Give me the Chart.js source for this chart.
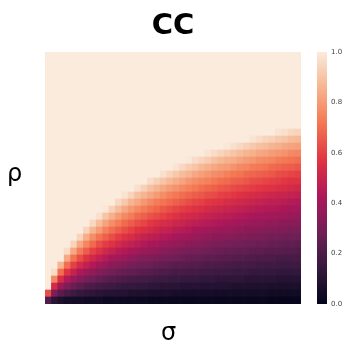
<!DOCTYPE html>
<html>
<head>
<meta charset="utf-8">
<script src="https://cdn.jsdelivr.net/npm/chart.js@4/dist/chart.umd.min.js"></script>
<style>
  body { margin: 0; background: #fff; }
  #wrap { position: relative; width: 345px; height: 346px; font-family: "DejaVu Sans", sans-serif; }
  #heat { position: absolute; left: 0; top: 0; }
  #cbar { position: absolute; left: 300px; top: 0; }
  .lab { position: absolute; font-size: 24px; line-height: 1; color: #000; }
</style>
</head>
<body>
<div id="wrap">
  <canvas id="heat" width="345" height="346"></canvas>
  <canvas id="cbar" width="45" height="346"></canvas>
  <div class="lab" style="left:7px; top:161px;">ρ</div>
  <div class="lab" style="left:161px; top:320px;">σ</div>
</div>
<script>
// sigma cell centres (columns, left -> right)
const sigmaCols = [0.013, 0.038, 0.063, 0.088, 0.113, 0.138, 0.163, 0.188, 0.213, 0.238,
                   0.263, 0.288, 0.313, 0.338, 0.363, 0.388, 0.413, 0.438, 0.463, 0.488,
                   0.513, 0.538, 0.563, 0.588, 0.613, 0.638, 0.663, 0.688, 0.713, 0.738,
                   0.763, 0.788, 0.813, 0.838, 0.863, 0.888, 0.913, 0.938, 0.963, 0.988];
// rho cell centres (rows, bottom -> top)
const rhoRows = [0.014, 0.042, 0.069, 0.097, 0.125, 0.153, 0.181, 0.208, 0.236, 0.264,
                 0.292, 0.319, 0.347, 0.375, 0.403, 0.431, 0.458, 0.486, 0.514, 0.542,
                 0.569, 0.597, 0.625, 0.653, 0.681, 0.708, 0.736, 0.764, 0.792, 0.819,
                 0.847, 0.875, 0.903, 0.931, 0.958, 0.986];

// CC values, one array per rho row (bottom row first), 40 sigma columns each
const cc00 = [0.21,0.11,0.08,0.06,0.05,0.05,0.04,0.04,0.04,0.03, 0.03,0.03,0.03,0.03,0.03,0.03,0.02,0.02,0.02,0.02, 0.02,0.02,0.02,0.02,0.02,0.02,0.02,0.02,0.02,0.02, 0.02,0.02,0.02,0.02,0.02,0.01,0.01,0.01,0.01,0.01];
const cc01 = [0.63,0.32,0.23,0.19,0.16,0.14,0.13,0.12,0.11,0.10, 0.10,0.09,0.09,0.08,0.08,0.08,0.07,0.07,0.07,0.07, 0.06,0.06,0.06,0.06,0.06,0.06,0.05,0.05,0.05,0.05, 0.05,0.05,0.05,0.05,0.05,0.04,0.04,0.04,0.04,0.04];
const cc02 = [1,0.53,0.39,0.32,0.27,0.24,0.21,0.20,0.18,0.17, 0.16,0.15,0.14,0.14,0.13,0.13,0.12,0.12,0.11,0.11, 0.11,0.10,0.10,0.10,0.09,0.09,0.09,0.09,0.09,0.08, 0.08,0.08,0.08,0.08,0.08,0.07,0.07,0.07,0.07,0.07];
const cc03 = [1,0.75,0.54,0.44,0.38,0.33,0.30,0.28,0.26,0.24, 0.22,0.21,0.20,0.19,0.18,0.18,0.17,0.16,0.16,0.15, 0.15,0.14,0.14,0.14,0.13,0.13,0.13,0.12,0.12,0.12, 0.12,0.11,0.11,0.11,0.11,0.11,0.10,0.10,0.10,0.10];
const cc04 = [1,0.96,0.70,0.57,0.49,0.43,0.39,0.36,0.33,0.31, 0.29,0.27,0.26,0.25,0.24,0.23,0.22,0.21,0.20,0.20, 0.19,0.19,0.18,0.18,0.17,0.17,0.16,0.16,0.16,0.15, 0.15,0.15,0.14,0.14,0.14,0.14,0.13,0.13,0.13,0.13];
const cc05 = [1,1,0.86,0.70,0.60,0.53,0.48,0.44,0.40,0.38, 0.35,0.33,0.32,0.30,0.29,0.28,0.27,0.26,0.25,0.24, 0.23,0.23,0.22,0.22,0.21,0.20,0.20,0.20,0.19,0.19, 0.18,0.18,0.18,0.17,0.17,0.17,0.16,0.16,0.16,0.16];
const cc06 = [1,1,1,0.83,0.71,0.63,0.57,0.52,0.48,0.45, 0.42,0.40,0.38,0.36,0.34,0.33,0.32,0.31,0.30,0.29, 0.28,0.27,0.26,0.26,0.25,0.24,0.24,0.23,0.23,0.22, 0.22,0.21,0.21,0.20,0.20,0.20,0.19,0.19,0.19,0.19];
const cc07 = [1,1,1,0.96,0.83,0.73,0.66,0.60,0.56,0.52, 0.49,0.46,0.44,0.42,0.40,0.38,0.37,0.36,0.34,0.33, 0.32,0.31,0.30,0.30,0.29,0.28,0.27,0.27,0.26,0.26, 0.25,0.25,0.24,0.24,0.23,0.23,0.23,0.22,0.22,0.21];
const cc08 = [1,1,1,1,0.94,0.83,0.75,0.69,0.63,0.59, 0.56,0.53,0.50,0.48,0.46,0.44,0.42,0.41,0.39,0.38, 0.37,0.36,0.35,0.34,0.33,0.32,0.31,0.31,0.30,0.29, 0.29,0.28,0.28,0.27,0.27,0.26,0.26,0.25,0.25,0.24];
const cc09 = [1,1,1,1,1,0.94,0.84,0.77,0.71,0.67, 0.63,0.59,0.56,0.54,0.51,0.49,0.47,0.46,0.44,0.43, 0.41,0.40,0.39,0.38,0.37,0.36,0.35,0.35,0.34,0.33, 0.32,0.32,0.31,0.31,0.30,0.29,0.29,0.28,0.28,0.28];
const cc10 = [1,1,1,1,1,1,0.94,0.86,0.80,0.74, 0.70,0.66,0.63,0.60,0.57,0.55,0.53,0.51,0.49,0.48, 0.46,0.45,0.44,0.42,0.41,0.40,0.39,0.38,0.38,0.37, 0.36,0.35,0.35,0.34,0.33,0.33,0.32,0.32,0.31,0.31];
const cc11 = [1,1,1,1,1,1,1,0.95,0.88,0.82, 0.77,0.73,0.69,0.66,0.63,0.61,0.58,0.56,0.54,0.53, 0.51,0.50,0.48,0.47,0.46,0.45,0.44,0.43,0.42,0.41, 0.40,0.39,0.38,0.38,0.37,0.36,0.36,0.35,0.35,0.34];
const cc12 = [1,1,1,1,1,1,1,1,0.97,0.90, 0.85,0.80,0.76,0.73,0.69,0.67,0.64,0.62,0.60,0.58, 0.56,0.54,0.53,0.52,0.50,0.49,0.48,0.47,0.46,0.45, 0.44,0.43,0.42,0.41,0.41,0.40,0.39,0.39,0.38,0.37];
const cc13 = [1,1,1,1,1,1,1,1,1,0.99, 0.93,0.88,0.83,0.79,0.76,0.73,0.70,0.68,0.65,0.63, 0.61,0.59,0.58,0.56,0.55,0.53,0.52,0.51,0.50,0.49, 0.48,0.47,0.46,0.45,0.44,0.44,0.43,0.42,0.41,0.41];
const cc14 = [1,1,1,1,1,1,1,1,1,1, 1,0.95,0.91,0.86,0.83,0.79,0.76,0.73,0.71,0.69, 0.67,0.65,0.63,0.61,0.60,0.58,0.57,0.56,0.54,0.53, 0.52,0.51,0.50,0.49,0.48,0.47,0.47,0.46,0.45,0.44];
const cc15 = [1,1,1,1,1,1,1,1,1,1, 1,1,0.98,0.94,0.89,0.86,0.83,0.80,0.77,0.74, 0.72,0.70,0.68,0.66,0.65,0.63,0.62,0.60,0.59,0.58, 0.56,0.55,0.54,0.53,0.52,0.51,0.50,0.50,0.49,0.48];
const cc16 = [1,1,1,1,1,1,1,1,1,1, 1,1,1,1,0.97,0.93,0.89,0.86,0.83,0.80, 0.78,0.76,0.74,0.72,0.70,0.68,0.67,0.65,0.64,0.62, 0.61,0.60,0.59,0.58,0.57,0.56,0.55,0.54,0.53,0.52];
const cc17 = [1,1,1,1,1,1,1,1,1,1, 1,1,1,1,1,1,0.96,0.93,0.90,0.87, 0.84,0.82,0.79,0.77,0.75,0.74,0.72,0.70,0.69,0.67, 0.66,0.65,0.63,0.62,0.61,0.60,0.59,0.58,0.57,0.56];
const cc18 = [1,1,1,1,1,1,1,1,1,1, 1,1,1,1,1,1,1,1,0.97,0.94, 0.91,0.88,0.86,0.83,0.81,0.79,0.77,0.76,0.74,0.72, 0.71,0.69,0.68,0.67,0.66,0.65,0.63,0.62,0.61,0.60];
const cc19 = [1,1,1,1,1,1,1,1,1,1, 1,1,1,1,1,1,1,1,1,1, 0.98,0.95,0.92,0.90,0.87,0.85,0.83,0.81,0.80,0.78, 0.76,0.75,0.73,0.72,0.71,0.69,0.68,0.67,0.66,0.65];
const cc20 = [1,1,1,1,1,1,1,1,1,1, 1,1,1,1,1,1,1,1,1,1, 1,1,0.99,0.96,0.94,0.92,0.89,0.87,0.85,0.84, 0.82,0.80,0.79,0.77,0.76,0.75,0.73,0.72,0.71,0.70];
const cc21 = [1,1,1,1,1,1,1,1,1,1, 1,1,1,1,1,1,1,1,1,1, 1,1,1,1,1,0.98,0.96,0.94,0.92,0.90, 0.88,0.86,0.85,0.83,0.82,0.80,0.79,0.78,0.76,0.75];
const cc22 = [1,1,1,1,1,1,1,1,1,1, 1,1,1,1,1,1,1,1,1,1, 1,1,1,1,1,1,1,1,0.99,0.97, 0.95,0.93,0.91,0.89,0.88,0.86,0.85,0.83,0.82,0.81];
const cc23 = [1,1,1,1,1,1,1,1,1,1, 1,1,1,1,1,1,1,1,1,1, 1,1,1,1,1,1,1,1,1,1, 1,1,0.98,0.96,0.94,0.93,0.91,0.90,0.88,0.87];
const cc24 = [1,1,1,1,1,1,1,1,1,1, 1,1,1,1,1,1,1,1,1,1, 1,1,1,1,1,1,1,1,1,1, 1,1,1,1,1,1,0.98,0.97,0.95,0.94];
const cc25 = [1,1,1,1,1,1,1,1,1,1, 1,1,1,1,1,1,1,1,1,1, 1,1,1,1,1,1,1,1,1,1, 1,1,1,1,1,1,1,1,1,1];
const cc26 = [1,1,1,1,1,1,1,1,1,1, 1,1,1,1,1,1,1,1,1,1, 1,1,1,1,1,1,1,1,1,1, 1,1,1,1,1,1,1,1,1,1];
const cc27 = [1,1,1,1,1,1,1,1,1,1, 1,1,1,1,1,1,1,1,1,1, 1,1,1,1,1,1,1,1,1,1, 1,1,1,1,1,1,1,1,1,1];
const cc28 = [1,1,1,1,1,1,1,1,1,1, 1,1,1,1,1,1,1,1,1,1, 1,1,1,1,1,1,1,1,1,1, 1,1,1,1,1,1,1,1,1,1];
const cc29 = [1,1,1,1,1,1,1,1,1,1, 1,1,1,1,1,1,1,1,1,1, 1,1,1,1,1,1,1,1,1,1, 1,1,1,1,1,1,1,1,1,1];
const cc30 = [1,1,1,1,1,1,1,1,1,1, 1,1,1,1,1,1,1,1,1,1, 1,1,1,1,1,1,1,1,1,1, 1,1,1,1,1,1,1,1,1,1];
const cc31 = [1,1,1,1,1,1,1,1,1,1, 1,1,1,1,1,1,1,1,1,1, 1,1,1,1,1,1,1,1,1,1, 1,1,1,1,1,1,1,1,1,1];
const cc32 = [1,1,1,1,1,1,1,1,1,1, 1,1,1,1,1,1,1,1,1,1, 1,1,1,1,1,1,1,1,1,1, 1,1,1,1,1,1,1,1,1,1];
const cc33 = [1,1,1,1,1,1,1,1,1,1, 1,1,1,1,1,1,1,1,1,1, 1,1,1,1,1,1,1,1,1,1, 1,1,1,1,1,1,1,1,1,1];
const cc34 = [1,1,1,1,1,1,1,1,1,1, 1,1,1,1,1,1,1,1,1,1, 1,1,1,1,1,1,1,1,1,1, 1,1,1,1,1,1,1,1,1,1];
const cc35 = [1,1,1,1,1,1,1,1,1,1, 1,1,1,1,1,1,1,1,1,1, 1,1,1,1,1,1,1,1,1,1, 1,1,1,1,1,1,1,1,1,1];
const ccRows = [cc00, cc01, cc02, cc03, cc04, cc05, cc06, cc07, cc08, cc09,
                cc10, cc11, cc12, cc13, cc14, cc15, cc16, cc17, cc18, cc19,
                cc20, cc21, cc22, cc23, cc24, cc25, cc26, cc27, cc28, cc29,
                cc30, cc31, cc32, cc33, cc34, cc35];

const cbarTicks = [0.0, 0.2, 0.4, 0.6, 0.8, 1.0];

// seaborn "rocket" colormap anchors
const rocketStops = [
  [0,     [3, 5, 26]],
  [1 / 7, [53, 25, 62]],
  [2 / 7, [112, 31, 87]],
  [3 / 7, [173, 23, 89]],
  [4 / 7, [225, 51, 66]],
  [5 / 7, [243, 118, 81]],
  [6 / 7, [246, 180, 143]],
  [1,     [250, 235, 221]]
];

function rgb(c) { return `rgb(${c[0]},${c[1]},${c[2]})`; }

function rocket(v) {
  const t = Math.max(0, Math.min(1, v));
  for (let k = 1; k < rocketStops.length; k++) {
    const [p0, c0] = rocketStops[k - 1];
    const [p1, c1] = rocketStops[k];
    if (t <= p1) {
      const f = (t - p0) / (p1 - p0);
      return rgb(c0.map((x, n) => Math.round(x + (c1[n] - x) * f)));
    }
  }
  return rgb(rocketStops[rocketStops.length - 1][1]);
}

Chart.defaults.font.family = 'DejaVu Sans';

// heatmap: one stacked bar dataset per rho row, coloured cell by cell
new Chart(document.getElementById('heat'), {
  type: 'bar',
  data: {
    labels: sigmaCols,
    datasets: ccRows.map((row, i) => ({
      label: 'rho ' + rhoRows[i],
      data: row.map(() => 1),
      backgroundColor: row.map(rocket),
      borderWidth: 0,
      barPercentage: 1,
      categoryPercentage: 1
    }))
  },
  options: {
    responsive: false,
    animation: false,
    layout: { padding: { left: 45, right: 44, top: 0, bottom: 42 } },
    plugins: {
      legend: { display: false },
      tooltip: { enabled: false },
      title: {
        display: true,
        text: 'CC',
        color: '#000',
        font: { size: 29, weight: 'bold', lineHeight: 1.2 },
        padding: { top: 9, bottom: 8.2 }
      }
    },
    scales: {
      x: { stacked: true, display: false },
      y: { stacked: true, display: false, min: 0, max: ccRows.length }
    }
  }
});

// colour bar
new Chart(document.getElementById('cbar'), {
  type: 'bar',
  data: {
    labels: ['CC'],
    datasets: [{
      data: [[0, 1]],
      backgroundColor: (ctx) => {
        const area = ctx.chart.chartArea;
        if (!area) return '#000';
        const g = ctx.chart.ctx.createLinearGradient(0, area.bottom, 0, area.top);
        rocketStops.forEach(s => g.addColorStop(s[0], rgb(s[1])));
        return g;
      },
      borderWidth: 0,
      barPercentage: 1,
      categoryPercentage: 1
    }]
  },
  options: {
    responsive: false,
    animation: false,
    layout: { padding: { left: 17, right: 2, top: 52, bottom: 42 } },
    plugins: { legend: { display: false }, tooltip: { enabled: false } },
    scales: {
      x: { display: false },
      y: {
        position: 'right',
        min: 0,
        max: 1,
        afterFit: (s) => { s.width = 16; },
        afterBuildTicks: (s) => { s.ticks = cbarTicks.map(v => ({ value: v })); },
        grid: { display: false, drawTicks: false },
        border: { display: false },
        ticks: {
          padding: 4,
          color: '#444',
          font: { size: 7 },
          callback: (v) => v.toFixed(1)
        }
      }
    }
  }
});
</script>
</body>
</html>
